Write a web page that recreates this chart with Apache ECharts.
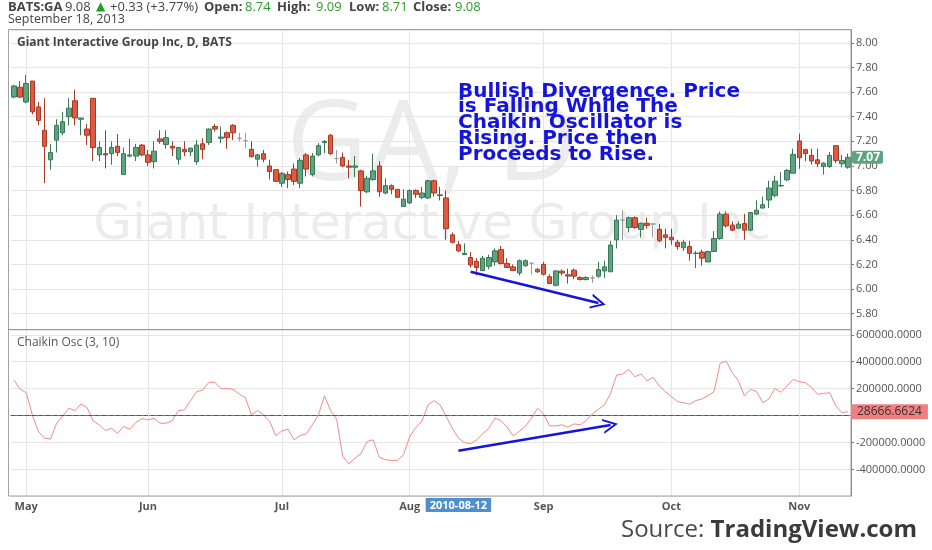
<!DOCTYPE html>
<html><head><meta charset="utf-8">
<script src="https://cdn.jsdelivr.net/npm/echarts@6/dist/echarts.min.js"></script>
<style>html,body{margin:0;padding:0;background:#fff}#c{width:932px;height:550px}</style>
</head><body><div id="c"></div>
<script>
// trading days (2010)
const aprDays = [29,30];
const mayDays = [3,4,5,6,7,10,11,12,13,14,17,18,19,20,21,24,25,26,27,28];
const junDays = [1,2,3,4,7,8,9,10,11,14,15,16,17,18,21,22,23,24,25,28,29,30];
const julDays = [1,2,6,7,8,9,12,13,14,15,16,19,20,21,22,23,26,27,28,29,30];
const augDays = [2,3,4,5,6,9,10,11,12,13,16,17,18,19,20,23,24,25,26,27,30,31];
const sepDays = [1,2,3,7,8,9,10,13,14,15,16,17,20,21,22,23,24,27,28,29,30];
const octDays = [1,4,5,6,7,8,11,12,13,14,15,18,19,20,21,22,25,26,27,28,29];
const novDays = [1,2,3,4,5,8,9,10,11];

const monthStarts = ['2010-05-03','2010-06-01','2010-07-01','2010-08-02','2010-09-01','2010-10-01','2010-11-01'];
const monthLabels = ['May','Jun','Jul','Aug','Sep','Oct','Nov'];

const opens = [7.56,7.64,7.52,7.69,7.48,7.29,7.05,7.21,7.27,7.40,7.53,7.38,7.30,7.55,7.09,7.10,7.10,7.16,6.93,7.08,7.08,7.17,
7.09,7.035,7.22,7.175,7.16,7.055,7.135,7.115,7.035,7.18,7.19,7.32,7.225,7.27,7.33,7.225,7.205,7.135,7.055,7.10,7.00,6.97,
6.86,6.93,6.975,6.86,7.09,6.93,7.09,7.19,7.25,7.06,7.07,7.00,6.99,6.96,6.79,6.89,7.00,6.78,6.84,6.81,6.67,
6.70,6.80,6.745,6.74,6.88,6.765,6.74,6.44,6.36,6.28,6.256,6.225,6.15,6.185,6.22,6.32,6.207,6.18,6.13,6.19,6.21,6.16,
6.20,6.10,6.03,6.145,6.115,6.153,6.093,6.077,6.09,6.104,6.147,6.14,6.40,6.56,6.50,6.58,6.485,6.534,6.528,6.485,6.44,
6.42,6.38,6.335,6.345,6.288,6.30,6.22,6.305,6.41,6.608,6.52,6.494,6.532,6.478,6.609,6.658,6.723,6.759,6.838,6.887,6.941,
7.203,7.133,7.086,7.05,6.996,6.996,7.165,7.018,6.99];
const closes = [7.65,7.56,7.67,7.44,7.37,7.16,7.11,7.33,7.36,7.47,7.39,7.39,7.25,7.15,7.15,7.09,7.15,7.11,7.10,7.09,7.15,7.09,
7.03,7.12,7.20,7.23,7.145,7.15,7.115,7.145,7.17,7.135,7.30,7.30,7.235,7.23,7.27,7.225,7.205,7.075,7.09,7.055,6.955,6.875,
6.94,6.89,6.875,7.045,6.975,7.08,7.165,7.20,7.10,7.06,7.00,6.99,7.00,6.80,6.90,6.96,6.79,6.84,6.81,6.745,6.73,
6.80,6.77,6.78,6.88,6.78,6.76,6.49,6.38,6.31,6.29,6.195,6.175,6.25,6.256,6.31,6.207,6.175,6.15,6.23,6.23,6.21,6.14,
6.12,6.045,6.147,6.13,6.105,6.104,6.077,6.093,6.09,6.158,6.18,6.357,6.56,6.56,6.58,6.50,6.534,6.517,6.528,6.392,6.42,
6.40,6.345,6.38,6.29,6.292,6.25,6.305,6.41,6.608,6.513,6.478,6.527,6.478,6.622,6.641,6.685,6.821,6.876,6.842,6.963,7.094,
7.067,7.10,7.04,7.018,7.023,7.086,7.045,7.045,7.07];
const lows = [7.55,7.55,7.51,7.42,7.33,6.86,6.97,7.11,7.25,7.33,7.33,7.25,7.17,7.04,7.04,6.98,7.01,7.08,6.93,7.07,7.04,7.08,
7.00,6.98,7.18,7.14,7.08,7.01,7.08,7.08,7.01,7.055,7.17,7.28,7.185,7.14,7.21,7.20,7.145,7.07,6.995,7.03,6.89,6.87,
6.83,6.82,6.845,6.82,6.915,6.915,7.078,7.105,7.09,7.02,6.99,6.90,6.91,6.67,6.78,6.88,6.75,6.77,6.77,6.74,6.67,
6.69,6.74,6.73,6.73,6.75,6.72,6.40,6.37,6.30,6.28,6.175,6.11,6.15,6.16,6.19,6.20,6.17,6.15,6.11,6.18,6.115,6.13,
6.11,6.04,6.02,6.11,6.044,6.08,6.07,6.07,6.05,6.09,6.09,6.14,6.33,6.40,6.46,6.49,6.42,6.49,6.42,6.38,6.33,
6.36,6.32,6.31,6.23,6.17,6.19,6.22,6.30,6.40,6.50,6.47,6.49,6.40,6.47,6.60,6.655,6.658,6.745,6.83,6.877,6.941,
6.977,7.04,7.01,6.99,6.93,6.985,7.023,6.99,6.977];
const highs = [7.66,7.69,7.74,7.69,7.52,7.55,7.18,7.38,7.44,7.55,7.62,7.39,7.34,7.55,7.20,7.29,7.20,7.26,7.15,7.22,7.18,7.18,
7.13,7.20,7.29,7.29,7.20,7.155,7.20,7.145,7.21,7.225,7.305,7.34,7.32,7.28,7.34,7.27,7.27,7.20,7.10,7.13,7.05,6.97,
6.95,6.955,7.02,7.065,7.105,7.105,7.186,7.21,7.26,7.13,7.11,7.05,7.08,6.97,6.92,7.10,7.04,6.90,6.85,6.81,6.81,
6.81,6.81,6.83,6.89,6.89,6.83,6.80,6.46,6.39,6.37,6.30,6.25,6.27,6.28,6.33,6.35,6.25,6.20,6.24,6.24,6.21,6.17,
6.22,6.12,6.15,6.16,6.166,6.166,6.104,6.104,6.11,6.22,6.23,6.39,6.60,6.64,6.59,6.59,6.54,6.58,6.54,6.53,6.49,
6.49,6.40,6.40,6.39,6.31,6.32,6.31,6.47,6.63,6.63,6.55,6.55,6.61,6.622,6.72,6.75,6.88,6.92,6.95,6.976,7.14,
7.263,7.14,7.14,7.14,7.03,7.113,7.165,7.09,7.10];
const chaikin = [264000,195000,170000,5000,-118000,-168000,-175000,-57000,-2000,54000,37000,86000,59000,-40000,-69000,-111000,-94000,-131000,-81000,-101000,-52000,-22000,-32000,-20000,-57000,-57000,-37000,37000,42000,111000,178000,190000,247000,247000,200000,200000,195000,160000,133000,5000,37000,5000,-44000,-151000,-114000,-101000,-180000,-148000,-136000,-69000,5000,146000,37000,-27000,-304000,-360000,-316000,-284000,-193000,-180000,-309000,-328000,-333000,-333000,-291000,-156000,-89000,-42000,79000,111000,79000,-7000,-94000,-168000,-200000,
-210000,-180000,-136000,-94000,-20000,-37000,-86000,-151000,-118000,-81000,-20000,54000,12000,-77000,-77000,-69000,-86000,-62000,-69000,-37000,12000,47000,79000,165000,301000,309000,343000,289000,309000,259000,284000,220000,178000,141000,104000,96000,84000,111000,123000,148000,178000,388000,405000,318000,259000,146000,195000,178000,96000,123000,202000,173000,220000,269000,252000,244000,210000,158000,165000,170000,72000,22000,28666.6624];

const lastPrice = 7.07;
const lastOsc = 28666.6624;
const markedDate = '2010-08-12';
const priceArrow = [['2010-08-16', 6.14], ['2010-09-15', 5.887]];
const oscArrow = [['2010-08-12', -262000], ['2010-09-17', -71000]];

// quote header pieces: [text, style, x]
const headerParts = [
  ['BATS:GA','b',8], ['9.08','n',65], ['▲','g',96], ['+0.33 (+3.77%)','n',110],
  ['Open:','b',204], ['8.74','v',245], ['High:','b',277], ['9.09','v',316],
  ['Low:','b',349], ['8.71','v',382], ['Close:','b',413], ['9.08','v',455]
];

function fmt(m, d){ return '2010-' + String(m).padStart(2,'0') + '-' + String(d).padStart(2,'0'); }
const dates = [].concat(
  aprDays.map(d=>fmt(4,d)), mayDays.map(d=>fmt(5,d)), junDays.map(d=>fmt(6,d)),
  julDays.map(d=>fmt(7,d)), augDays.map(d=>fmt(8,d)), sepDays.map(d=>fmt(9,d)),
  octDays.map(d=>fmt(10,d)), novDays.map(d=>fmt(11,d)));
const ohlc = dates.map((d,i)=>[opens[i], closes[i], lows[i], highs[i]]);

const chevron = 'path://M0,10 L5,0 L10,10 L8.6,10 L5,2.8 L1.4,10 Z';
const blue = '#1414dc';
const FF = 'Open Sans';
const clear = 'rgba(0,0,0,0)';
const headerStyles = {
  b:{font:'bold 13px "Open Sans"', fill:'#444'},
  n:{font:'13px "Open Sans"', fill:'#444'},
  g:{font:'12px "DejaVu Sans"', fill:'#23a023'},
  v:{font:'13px "Open Sans"', fill:'#2a9d2a'}
};

const chart = echarts.init(document.getElementById('c'), null, {renderer:'canvas', width:932, height:550});

const gridLinesMark = {
  silent:true, symbol:'none', z:1, animation:false,
  label:{show:false},
  lineStyle:{color:'#e6e6e6', width:1, type:'solid'},
  emphasis:{disabled:true},
  data: monthStarts.map(d=>({xAxis:d}))
};

const headerGraphics = headerParts.map(p=>({
  type:'text', x:p[2], y:7, silent:true, z:10,
  style:Object.assign({text:p[0], align:'left', verticalAlign:'middle'}, headerStyles[p[1]])
}));

chart.setOption({
  animation:false,
  backgroundColor:'#ffffff',
  textStyle:{fontFamily:FF},
  grid:[
    {left:11, right:81, top:30, height:299, outerBoundsMode:'none'},
    {left:11, right:81, top:330, height:166, outerBoundsMode:'none'}
  ],
  xAxis:[
    {type:'category', gridIndex:0, data:dates, boundaryGap:true,
     axisLine:{show:false}, axisTick:{show:false}, axisLabel:{show:false}, splitLine:{show:false}},
    {type:'category', gridIndex:1, data:dates, boundaryGap:true,
     axisLine:{show:true, lineStyle:{color:'#777'}}, axisTick:{show:false},
     axisLabel:{show:true, interval:(i,v)=>monthStarts.indexOf(v)>=0,
       formatter:(v)=>{const k=monthStarts.indexOf(v); return k>=0?monthLabels[k]:'';},
       color:'#555', fontWeight:'bold', fontSize:11, margin:5, fontFamily:FF},
     splitLine:{show:false}}
  ],
  yAxis:[
    {type:'value', gridIndex:0, position:'right', min:5.675, max:8.105, splitNumber:12,
     axisLine:{show:true, lineStyle:{color:'#777'}}, axisTick:{show:true, length:3, lineStyle:{color:'#777'}},
     axisLabel:{showMinLabel:false, showMaxLabel:false, formatter:v=>v.toFixed(2), color:'#555', fontSize:11, margin:5, fontFamily:FF},
     splitLine:{show:true, lineStyle:{color:'#e6e6e6'}}},
    {type:'value', gridIndex:1, position:'right', min:-598000, max:636000, splitNumber:6,
     axisLine:{show:true, lineStyle:{color:'#777'}}, axisTick:{show:true, length:3, lineStyle:{color:'#777'}},
     axisLabel:{showMinLabel:false, showMaxLabel:false, formatter:v=>v===0?'':v.toFixed(4), color:'#555', fontSize:11, margin:5, fontFamily:FF},
     splitLine:{show:true, lineStyle:{color:'#e6e6e6'}}}
  ],
  series:[
    {type:'line', xAxisIndex:0, yAxisIndex:0, data:[], silent:true, z:1, markLine:gridLinesMark},
    {type:'line', xAxisIndex:1, yAxisIndex:1, data:[], silent:true, z:1, markLine:gridLinesMark},
    {type:'candlestick', name:'GA', xAxisIndex:0, yAxisIndex:0, data:ohlc, barWidth:5, z:3, silent:true,
     itemStyle:{color:'#5da581', color0:'#e05a42', borderColor:'#3a7756', borderColor0:'#a63a26', borderColorDoji:'#9a9a9a', borderWidth:1},
     markLine:{silent:true, symbol:'none', animation:false, label:{show:false},
       data:[
         [{coord:priceArrow[0], symbol:'none'}, {coord:priceArrow[1], symbol:chevron, symbolSize:[15,15]}],
         {yAxis:lastPrice, lineStyle:{color:clear, width:0},
          label:{show:true, position:'end', distance:1, formatter:lastPrice.toFixed(2), color:'#fff', fontWeight:'bold', fontSize:12,
            backgroundColor:'#5da581', padding:[1,3,0,4], borderRadius:2, fontFamily:FF}}
       ],
       lineStyle:{color:blue, width:2.5, type:'solid'}}
    },
    {type:'line', name:'Chaikin Osc', xAxisIndex:1, yAxisIndex:1, data:chaikin, symbol:'none', showSymbol:false, silent:true, z:3,
     lineStyle:{color:'#ef8a8a', width:1},
     markLine:{silent:true, symbol:'none', animation:false, label:{show:false},
       data:[
         {yAxis:0, lineStyle:{color:'#555', width:1, type:[4,3]}},
         [{coord:oscArrow[0], symbol:'none', lineStyle:{color:blue, width:2.5, type:'solid'}}, {coord:oscArrow[1], symbol:chevron, symbolSize:[15,15]}],
         {yAxis:lastOsc, lineStyle:{color:clear, width:0},
          label:{show:true, position:'end', distance:0, formatter:lastOsc.toFixed(4), color:'#333', fontSize:12,
            backgroundColor:'#f27f7f', padding:[2,6,1,6], fontFamily:FF}},
         {xAxis:markedDate, lineStyle:{color:clear, width:0},
          label:{show:true, position:'start', distance:2, formatter:markedDate, color:'#fff', fontWeight:'bold', fontSize:11,
            backgroundColor:'#4f8fce', padding:[2,4,1,4], fontFamily:FF}}
       ]}
    }
  ],
  graphic:[
    {type:'text', x:432, y:148, silent:true, z:0,
     style:{text:'GA, D', font:'112px "Open Sans"', fill:'rgba(0,0,0,0.075)', align:'center', verticalAlign:'middle'}},
    {type:'text', x:432, y:226, silent:true, z:0,
     style:{text:'Giant Interactive Group Inc', font:'50px "DejaVu Sans"', fill:'rgba(0,0,0,0.075)', align:'center', verticalAlign:'middle'}},
    {type:'rect', silent:true, z:10, shape:{x:8.5, y:29.5, width:842.5, height:466.5},
     style:{fill:'none', stroke:'#a0a0a0', lineWidth:1}},
    {type:'line', silent:true, z:10, shape:{x1:8, y1:329.5, x2:851, y2:329.5},
     style:{stroke:'#999', lineWidth:1}}
  ].concat(headerGraphics).concat([
    {type:'text', x:8, y:19.5, silent:true, z:10,
     style:{text:'September 18, 2013', font:'12.5px "Open Sans"', fill:'#444', align:'left', verticalAlign:'middle'}},
    {type:'text', x:17, y:42.5, silent:true, z:10,
     style:{text:'Giant Interactive Group Inc, D, BATS', font:'bold 12px "Open Sans"', fill:'#444', align:'left', verticalAlign:'middle'}},
    {type:'text', x:17, y:342.5, silent:true, z:10,
     style:{text:'Chaikin Osc (3, 10)', font:'12px "Open Sans"', fill:'#555', align:'left', verticalAlign:'middle'}},
    {type:'text', x:458, y:83.5, silent:true, z:10,
     style:{text:'Bullish Divergence. Price\nis Falling While The\nChaikin Oscillator is\nRising. Price then\nProceeds to Rise.',
       font:'bold 20px "DejaVu Sans"', lineHeight:15.8, fill:blue, align:'left', verticalAlign:'top'}},
    {type:'text', x:917, y:530, silent:true, z:10,
     style:{text:'{n|Source: }{b|TradingView.com}', align:'right', verticalAlign:'middle', font:'24px "Open Sans"',
       rich:{n:{fontFamily:FF, fontSize:24, fill:'#4a4a4a'}, b:{fontFamily:FF, fontSize:24, fontWeight:'bold', fill:'#3a3a3a'}}}}
  ])
});
</script>
</body></html>
